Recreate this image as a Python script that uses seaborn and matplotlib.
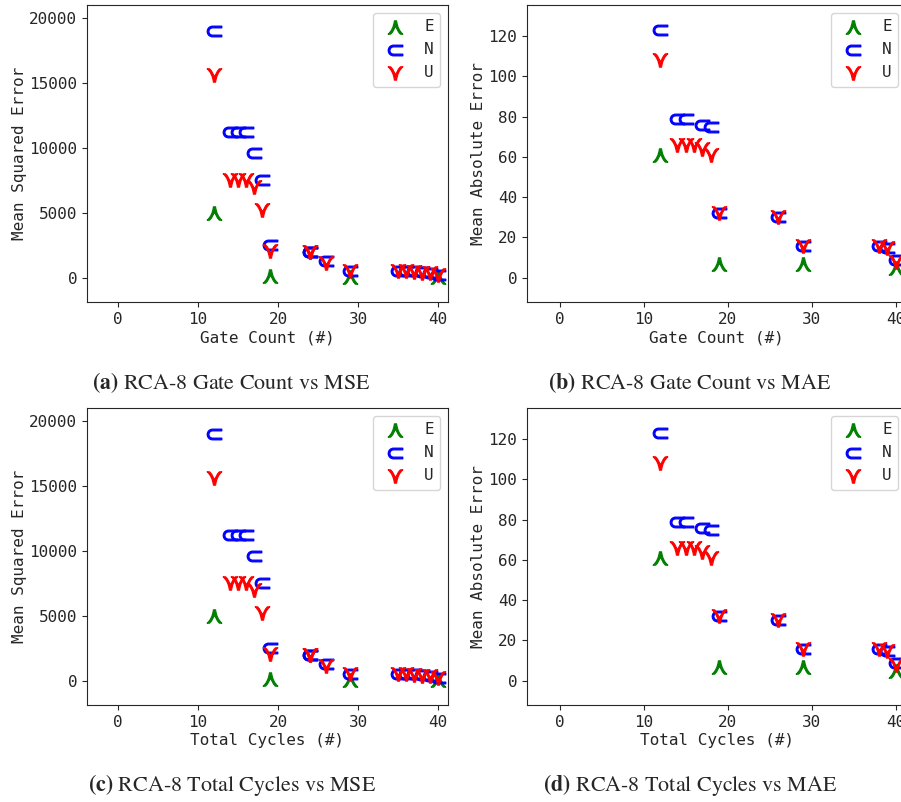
import matplotlib
matplotlib.use("Agg")
import matplotlib.pyplot as plt
import seaborn as sns

# MSE panels (gate count / total cycles share the same values)
mse_e_x = [12, 19, 29, 40]
mse_e = [5000, 150, 100, 50]
mse_n_x = [12, 14, 15, 16, 17, 18, 19, 24, 24, 26, 29, 35, 36, 37, 38, 39, 40]
mse_n = [19000, 11200, 11200, 11200, 9600, 7500, 2550, 2000, 2000, 1300, 500,
         550, 500, 500, 450, 350, 250]
mse_u_x = [12, 14, 15, 16, 17, 18, 19, 24, 24, 26, 29, 35, 36, 37, 38, 39, 40]
mse_u = [15600, 7500, 7500, 7500, 7000, 5200, 2050, 2000, 2000, 1150, 500,
         500, 500, 450, 400, 350, 200]

# MAE panels
mae_e_x = [12, 19, 29, 40]
mae_e = [61, 7, 7, 5]
mae_n_x = [12, 14, 15, 17, 18, 19, 26, 29, 38, 39, 40]
mae_n = [123, 79, 79, 76, 75, 32, 30, 16, 16, 15, 9]
mae_u_x = [12, 14, 15, 16, 17, 18, 19, 26, 29, 38, 39, 40]
mae_u = [108, 66, 66, 66, 64, 61, 32, 30, 16, 16, 15, 8]

series_names = ["E", "N", "U"]
series_colors = ["green", "blue", "red"]
series_markers = [r"$\curlywedge$", r"$\subset$", r"$\curlyvee$"]

captions = [r"$\mathbf{(a)}$ RCA-8 Gate Count vs MSE",
            r"$\mathbf{(b)}$ RCA-8 Gate Count vs MAE",
            r"$\mathbf{(c)}$ RCA-8 Total Cycles vs MSE",
            r"$\mathbf{(d)}$ RCA-8 Total Cycles vs MAE"]

sns.set_style("ticks")
plt.rcParams["font.family"] = ["DejaVu Sans Mono"]

fig = plt.figure(figsize=(9.01, 8.02), dpi=100)
W, H = 901, 802


def make_ax(left, top, width, height):
    return fig.add_axes([left / W, 1 - (top + height) / H, width / W, height / H])


def draw(ax, xs, ys, xlabel, ylabel, ylim):
    for name, color, marker, x, y in zip(series_names, series_colors, series_markers, xs, ys):
        sns.scatterplot(x=x, y=y, marker=marker, color=color, edgecolor=color,
                        s=110, linewidth=0.9, label=name, ax=ax)
    ax.set_xlim(-3.9, 41.25)
    ax.set_ylim(*ylim)
    ax.set_xticks([0, 10, 20, 30, 40])
    ax.set_xlabel(xlabel, fontsize=11.5, labelpad=2.5)
    ax.set_ylabel(ylabel, fontsize=11.5, labelpad=1.5)
    ax.tick_params(labelsize=11.5)
    ax.legend(loc="upper right", fontsize=11.5)


ax_a = make_ax(87, 5, 361, 297)
ax_b = make_ax(527, 5, 379, 297)
ax_c = make_ax(87, 408, 361, 297)
ax_d = make_ax(527, 408, 379, 297)

mse_xs = [mse_e_x, mse_n_x, mse_u_x]
mse_ys = [mse_e, mse_n, mse_u]
mae_xs = [mae_e_x, mae_n_x, mae_u_x]
mae_ys = [mae_e, mae_n, mae_u]

draw(ax_a, mse_xs, mse_ys, "Gate Count (#)", "Mean Squared Error", (-1850, 21000))
draw(ax_b, mae_xs, mae_ys, "Gate Count (#)", "Mean Absolute Error", (-12, 135.3))
draw(ax_c, mse_xs, mse_ys, "Total Cycles (#)", "Mean Squared Error", (-1850, 21000))
draw(ax_d, mae_xs, mae_ys, "Total Cycles (#)", "Mean Absolute Error", (-12, 135.3))

for (cx, cy), text in zip([(231, 383), (690, 383), (232, 785), (690, 785)], captions):
    fig.text(cx / W, 1 - cy / H, text, ha="center", va="center",
             family="STIXGeneral", math_fontfamily="stix", fontsize=15.8)

fig.savefig("out.png", dpi=100)
